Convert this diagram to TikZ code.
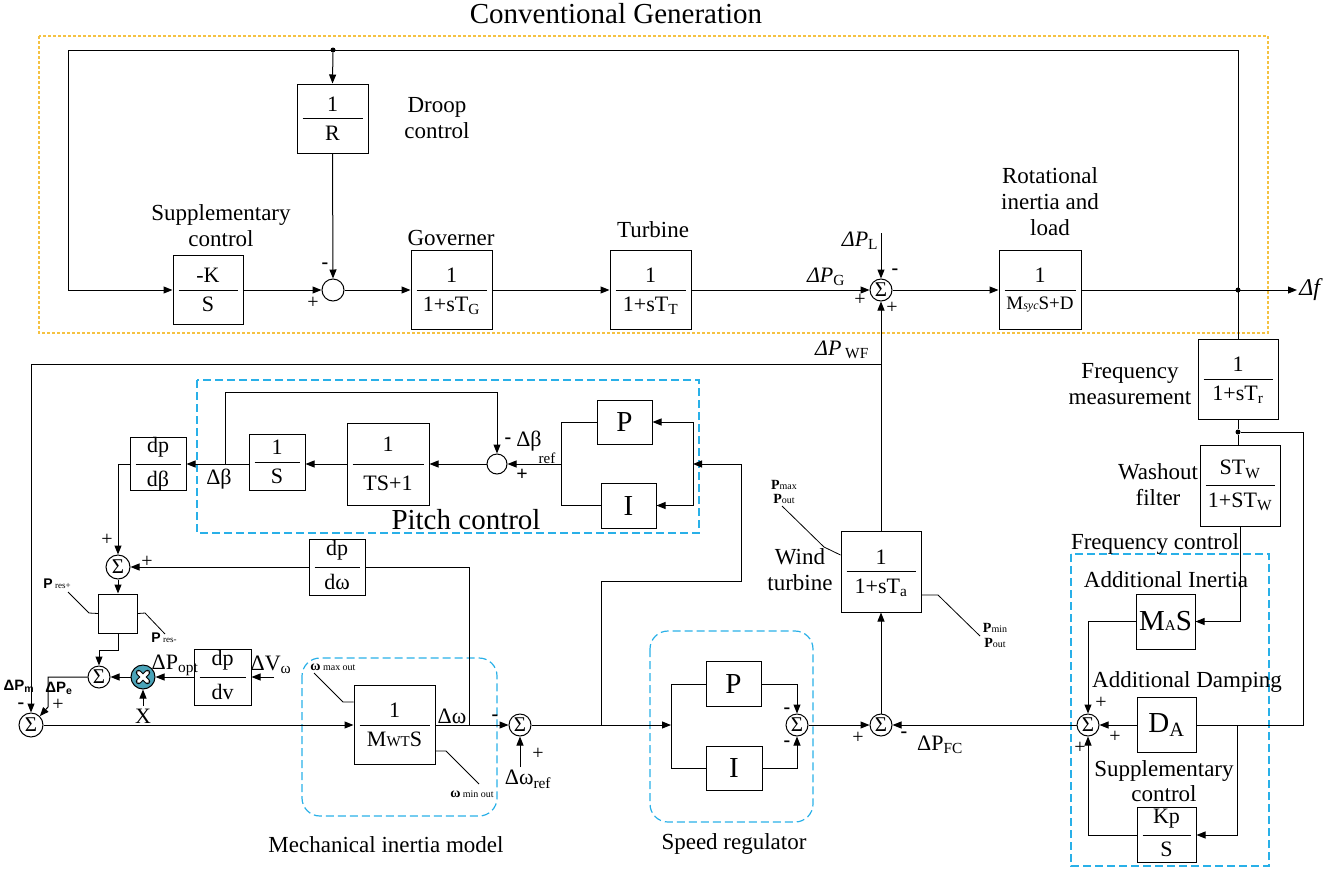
\documentclass[tikz,border=0pt]{standalone}
\usepackage{fontspec}
\setmainfont{Liberation Serif}
\newfontfamily\sansf{Liberation Sans}
\usetikzlibrary{arrows.meta,calc}
\definecolor{orng}{HTML}{F5C242}
\definecolor{cyanb}{HTML}{29B0E8}
\definecolor{mulc}{HTML}{4AA3B8}
\newcommand{\fs}[2]{\fontsize{#1}{#2}\selectfont}
\def\fgap{7pt}
\newcommand{\blkf}[6]{%
 \node[blk,minimum width=#3pt,minimum height=#4pt] (#1) at (#2) {};
 \draw[ln] ([xshift=6pt]#1.west) -- ([xshift=-6pt]#1.east);
 \node[anchor=south,inner sep=0pt,font=\fs{22}{24}] (#1n) at ([yshift=\fgap]#1.center) {#5};
 \node[anchor=north,inner sep=0pt,font=\fs{22}{24}] (#1d) at ([yshift=-\fgap]#1.center) {#6};
}
\tikzset{
 ln/.style={line width=1pt},
 arr/.style={line width=1pt,-{Triangle[length=9pt,width=7pt]}},
 blk/.style={draw,line width=1pt,inner sep=0pt},
 sm/.style={circle,draw,line width=1pt,minimum size=22pt,inner sep=0pt,font=\fs{21}{21}},
 lbl/.style={font=\fs{23}{26},align=center,inner sep=0pt},
 sg/.style={font=\fs{20}{20},inner sep=0pt},
 dotc/.style={circle,fill,inner sep=0pt,minimum size=5pt},
 bluebox/.style={draw=cyanb,line width=1.2pt,dash pattern=on 8pt off 4pt},
 pib/.style={blk,font=\fs{29}{29}},
 satl/.style={line width=0.8pt},
 tiny/.style={inner sep=0pt,font=\fs{14}{15}},
}
\begin{document}
\begin{tikzpicture}[x=1pt,y=-1pt]
\useasboundingbox (0,0) rectangle (1339,868);

% ---------- dashed frames
\draw[orng,line width=1.2pt,dash pattern=on 3pt off 2pt] (39,36) rectangle (1268,333);
\draw[bluebox] (197,380) rectangle (699,533);
\draw[bluebox] (1071,554) rectangle (1269,866);
\draw[bluebox,rounded corners=18pt] (302,658) rectangle (497,816);
\draw[bluebox,rounded corners=18pt] (650,631) rectangle (813,822);

% ---------- conventional generation
\node[lbl,font=\fs{29}{32}] (title) at (616,14) {Conventional Generation};
\blkf{R}{332.5,118.5}{71}{69}{1}{R}
\blkf{K}{208,290}{70}{69}{-K}{S}
\blkf{G}{451.5,290}{81}{79}{1}{1+sT\textsubscript{G}}
\blkf{T}{650.5,290}{81}{79}{1}{1+sT\textsubscript{T}}
\blkf{M}{1040,290}{82}{79}{1}{{\fs{19}{20}M{\fs{12}{12}\itshape syc}S+D}}
\node[sm] (s1) at (333,290) {};
\node[sm] (s2) at (881,290) {Σ};
\node[dotc] (d1) at (333,50) {};
\node[dotc] (d2) at (1238,290) {};
\coordinate (tl) at (68,50);
\coordinate (tr) at (1238,50);
\coordinate (df) at (1297,290);
\coordinate (pl) at (881,233);

\draw[arr] (tr) -- (tl) |- (K.west);
\draw[arr] (d1) -- (R.north);
\draw[arr] (R.south) -- (s1.north);
\draw[arr] (K.east) -- (s1.west);
\draw[arr] (s1.east) -- (G.west);
\draw[arr] (G.east) -- (T.west);
\draw[arr] (T.east) -- (s2.west);
\draw[arr] (pl) -- (s2.north);
\draw[arr] (s2.east) -- (M.west);
\draw[arr] (M.east) -- (df);

\node[lbl] (ldroop) at (437,118) {Droop\\control};
\node[lbl] (lsup) at (221,226) {Supplementary\\control};
\node[lbl] (lgov) at (451,238) {Governer};
\node[lbl] (ltur) at (653,230) {Turbine};
\node[lbl] (lrot) at (1050,202) {Rotational\\inertia and\\load};
\node[lbl,font=\fs{22}{24}] (lpg) at (826,277) {\textit{ΔP}\textsubscript{G}};
\node[lbl,font=\fs{22}{24}] (lpl) at (860,241) {\textit{ΔP}\textsubscript{L}};
\node[lbl,font=\fs{24}{26}] (ldf) at (1311,290) {\textit{Δf}};
\node[sg] at (325,266) {\textbf{-}};
\node[sg] at (313,303) {+};
\node[sg] at (860,300) {+};
\node[sg] at (895,272) {\textbf{-}};
\node[sg] at (892,308) {+};

% ---------- frequency measurement / washout
\blkf{FM}{1238,379}{80}{80}{1}{1+sT\textsubscript{r}}
\node[dotc] (d3) at (1238,432) {};
\blkf{WF}{1240,485.5}{80}{81}{ST\textsubscript{W}}{1+ST\textsubscript{W}}
\draw[ln] (tr) -- (FM.north);
\draw[ln] (FM.south) -- (d3) -- (d3 |- WF.north);
\node[lbl] (lfm) at (1130,384) {Frequency\\measurement};
\node[lbl] (lwf) at (1158,485) {Washout\\filter};

% ---------- frequency control
\node[lbl] (lfc) at (1155,544) {Frequency control};
\node[lbl] (lai) at (1166,580) {Additional Inertia};
\node[lbl] (lad) at (1187,682) {Additional Damping};
\node[lbl,font=\fs{23}{25}] (lsc) at (1164,781) {Supplementary\\control};
\node[pib,minimum width=59pt,minimum height=55pt] (MA) at (1165.5,621.5) {M{\fs{15}{15}A}S};
\node[pib,minimum width=59pt,minimum height=55pt] (DA) at (1166.5,725) {D\textsubscript{A}};
\blkf{KP}{1166.5,835}{59}{55}{Kp}{S}
\node[sm] (s3) at (1088,725) {Σ};
\coordinate (c1) at (1303,432);
\coordinate (c2) at (1303,725);
\coordinate (c3) at (1237,725);
\draw[arr] (WF.south) |- (MA.east);
\draw[arr] (MA.west) -| (s3.north);
\draw[arr] (DA.west) -- (s3.east);
\draw[arr] (KP.west) -| (s3.south);
\draw[ln] (d3) -- (c1) -- (c2) -- (DA.east);
\draw[arr] (c3) |- (KP.east);
\node[sg] at (1101,703) {+};
\node[sg] at (1115,737) {+};
\node[sg] at (1080,748) {+};

% ---------- wind turbine
\blkf{WT}{881,571.5}{80}{81}{1}{1+sT\textsubscript{a}}
\node[sm] (s4) at (881,725) {Σ};
\coordinate (wfj) at (881,364);
\draw[arr] (WT.north) -- (s2.south);
\draw[arr] (s4.north) -- (WT.south);
\draw[arr] (s3.west) -- (s4.east);
\node[lbl] (lwt) at (800,570) {Wind\\turbine};
\node[lbl,font=\fs{22}{24}] (lwf2) at (842,350) {\textit{ΔP}\,\textsubscript{WF}};
\node[lbl,font=\fs{22}{24}] (lfc2) at (940,745) {ΔP\textsubscript{FC}};
\node[sg] at (858,738) {+};
\node[sg] at (904,735) {\textbf{-}};
\coordinate (wa1) at (824,547); \coordinate (wa2) at (782,506);
\coordinate (wb1) at (938,595); \coordinate (wb2) at (980,636);
\draw[satl] ([yshift=-24.5pt]WT.north west) -- (wa1) -- (wa2);
\draw[satl] ([yshift=-23.5pt]WT.east) -- (wb1) -- (wb2);
\node[tiny] (lpmax) at (784,485) {\textbf{P}{\fs{10}{10}max}};
\node[tiny] (lpout1) at (784,499) {\textbf{P}{\fs{10}{10}out}};
\node[tiny] (lpmin) at (995,628) {\textbf{P}{\fs{10}{10}min}};
\node[tiny] (lpout2) at (995,643) {\textbf{P}{\fs{10}{10}out}};

% ---------- speed regulator
\node[pib,minimum width=55pt,minimum height=45pt] (P2) at (733.5,684) {P};
\node[pib,minimum width=56pt,minimum height=44pt] (I2) at (734,768) {I};
\node[sm] (s5) at (797,725) {Σ};
\coordinate (sr1) at (671,725);
\draw[ln] (P2.west) -- (P2.west -| sr1) -- (I2.west -| sr1) -- (I2.west);
\draw[arr] (P2.east) -| (s5.north);
\draw[arr] (I2.east) -| (s5.south);
\draw[arr] (s5.east) -- (s4.west);
\node[sg] at (787,711) {\textbf{-}};
\node[sg] at (787,744) {\textbf{-}};
\node[lbl] (lsr) at (734,844) {Speed regulator};

% ---------- pitch control
\node[pib,minimum width=55pt,minimum height=44pt] (P1) at (624.5,422) {P};
\node[pib,minimum width=55pt,minimum height=45pt] (I1) at (628.5,505.5) {I};
\coordinate (pr1) at (693,422);
\coordinate (pr2) at (693,505.5);
\coordinate (pl1) at (561,422);
\coordinate (pl2) at (561,505.5);
\coordinate (pm) at (561,464);
\draw[ln] (pr1) -- (pr2);
\draw[arr] (pr1) -- (P1.east);
\draw[arr] (pr2) -- (I1.east);
\draw[ln] (P1.west) -- (pl1) -- (pl2) -- (I1.west);
\node[sm,minimum size=20pt] (s6) at (497,464) {};
\draw[arr] (pm) -- (s6.east);
{\def\fgap{12pt}\blkf{TS}{388,464}{82}{82}{1}{TS+1}}
\draw[arr] (s6.west) -- (TS.east);
\blkf{S1}{277,462}{56}{56}{1}{S}
\draw[arr] (TS.west) -- (TS.west -| S1.east);
\blkf{DB}{158,464}{56}{53}{dp}{dβ}
\draw[arr] (TS.west -| S1.west) -- (DB.east);
\coordinate (fb1) at (225,464);
\coordinate (fb2) at (225,392);
\draw[arr] (fb1) -- (fb2) -| (s6.north);
\node[lbl,font=\fs{22}{24}] (ldb) at (219,479) {Δβ};
\node[sg] at (508,441) {\textbf{-}};
\node[lbl,font=\fs{22}{24}] (ldbr) at (529,441) {Δβ};
\node[tiny,font=\fs{15}{15}] (lref) at (547,458) {ref};
\node[sg] at (522,475) {\textbf{+}};
\node[lbl,font=\fs{29}{32}] (lpc) at (466,520) {Pitch control};

% ---------- speed branch into pitch
\coordinate (b1) at (601,725);
\coordinate (b2) at (601,581);
\coordinate (b3) at (741,581);
\coordinate (b4) at (741,464);
\coordinate (pin) at (693,464);
\draw[arr] (b1) -- (b2) -- (b3) -- (b4) -- (pin);

% ---------- power reserve path
\node[sm,minimum size=24pt] (s7) at (118,567) {Σ};
\draw[arr] (DB.west) -| (s7.north);
\blkf{DW}{337,567}{56}{56}{dp}{dω}
\coordinate (w1) at (469,725);
\coordinate (w2) at (469,567);
\draw[ln] (w1) -- (w2) -- (DW.east);
\draw[arr] (DW.west) -- (s7.east);
\node[sg] at (107,540) {+};
\node[sg] at (147,562) {+};
\node[blk,minimum width=39pt,minimum height=39pt] (SAT) at (118,613.5) {};
\draw[arr] (s7.south) -- (SAT.north);
\node[sm] (s8) at (99,677) {Σ};
\coordinate (sat1) at (118,650);
\draw[arr] (SAT.south) -- (sat1) -| (s8.north);
\coordinate (sa1) at (89,613); \coordinate (sa2) at (68,592);
\coordinate (sb1) at (145,613); \coordinate (sb2) at (165,634);
\draw[satl] (SAT.west) -- (sa1) -- (sa2);
\draw[satl] (SAT.east) -- (sb1) -- (sb2);
\node[tiny] (lpr1) at (57,584) {{\sansf\bfseries P}\,{\fs{9}{9}res+}};
\node[tiny] (lpr2) at (164,638) {{\sansf\bfseries P}\,{\fs{9}{9}res-}};

\node[circle,draw,line width=1pt,fill=mulc,minimum size=24pt,inner sep=0pt] (MUL) at (143,677) {};
\foreach \wd/\cl in {5.5pt/black,3.2pt/white}{
 \draw[line width=\wd,\cl,line cap=round] ($(MUL.center)!0.5!(MUL.north east)$) -- ($(MUL.center)!0.5!(MUL.south west)$);
 \draw[line width=\wd,\cl,line cap=round] ($(MUL.center)!0.5!(MUL.north west)$) -- ($(MUL.center)!0.5!(MUL.south east)$);
}
\draw[arr] (MUL.west) -- (s8.east);
\blkf{DV}{222.5,677}{57}{56}{dp}{dv}
\draw[arr] (DV.west) -- (MUL.east);
\coordinate (vin) at (274,677);
\draw[arr] (vin) -- (DV.east);
\coordinate (xin) at (143,706);
\draw[arr] (xin) -- (MUL.south);
\node[lbl,font=\fs{22}{24}] (lpopt) at (175,665) {ΔP\textsubscript{opt}};
\node[lbl,font=\fs{22}{24}] (lvw) at (271,665) {ΔV\textsubscript{ω}};
\node[lbl,font=\fs{22}{24}] (lx) at (143,716) {X};

% ---------- mechanical model
\node[sm,minimum size=24pt] (s9) at (31,725) {Σ};
\coordinate (e1) at (48,677);
\coordinate (e2) at (48,707);
\draw[arr] (s8.west) -- (e1) -- (e2) -- (s9.north east);
\draw[arr] (wfj) -| (s9.north);
\node[tiny,font=\fs{15}{15}] (lpm) at (19,686) {\sansf\bfseries ΔP\textsubscript{m}};
\node[tiny,font=\fs{15}{15}] (lpe) at (59,688) {\sansf\bfseries ΔP\textsubscript{e}};
\node[sg] at (21,706) {\textbf{-}};
\node[sg] at (58,705) {+};

\blkf{MW}{394.5,725}{81}{79}{1}{M{\fs{15}{15}WT}S}
\draw[arr] (s9.east) -- (MW.west);
\node[sm] (s10) at (520,725) {Σ};
\draw[arr] (MW.east) -- (s10.west);
\coordinate (wr) at (520,767);
\draw[arr] (wr) -- (s10.south);
\draw[arr] (s10.east) -- (sr1);
\node[lbl,font=\fs{22}{24}] (ldw) at (452,716) {Δω};
\node[lbl,font=\fs{22}{24}] (ldwr) at (528,779) {Δω\textsubscript{ref}};
\node[sg] at (495,718) {\textbf{-}};
\node[sg] at (538,754) {+};
\coordinate (ma1) at (343,702); \coordinate (ma2) at (314,673);
\coordinate (mb1) at (446,751); \coordinate (mb2) at (479,784);
\draw[satl] (MW.west |- ma1) -- (ma1) -- (ma2);
\draw[satl] (MW.east |- mb1) -- (mb1) -- (mb2);
\node[tiny] (lwmax) at (333,667) {\textbf{ω}\,{\fs{10}{10}max out}};
\node[tiny] (lwmin) at (472,794) {\textbf{ω}\,{\fs{10}{10}min out}};
\node[lbl] (lmim) at (386,845) {Mechanical inertia model};
\end{tikzpicture}
\end{document}
